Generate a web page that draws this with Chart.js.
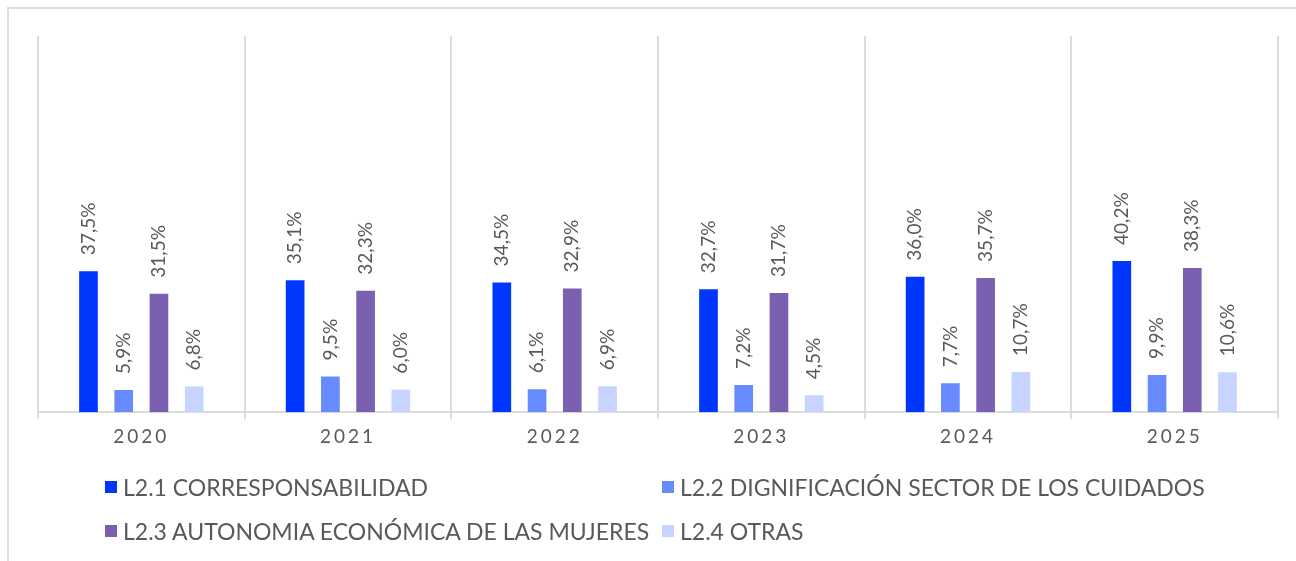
<!DOCTYPE html>
<html>
<head>
<meta charset="utf-8">
<script src="https://cdn.jsdelivr.net/npm/chart.js@4"></script>
<style>
  html, body { margin: 0; padding: 0; background: #fff; overflow: hidden; }
  body { width: 1296px; height: 561px; position: relative; font-family: Lato, "Noto Sans", sans-serif; }
  #frame { position: absolute; left: 7px; top: 7px; width: 1400px; height: 700px; border: 2px solid #dedede; }
  #chartBox { position: absolute; left: 0; top: 0; width: 1296px; height: 460px; }
  #legend { position: absolute; left: 0; top: 0; width: 1296px; height: 561px; }
  .item { position: absolute; display: flex; align-items: center; font-size: 23px; color: #595959; white-space: nowrap; }
  .box { width: 12px; height: 12px; margin-right: 6px; }
</style>
</head>
<body>
<div id="frame"></div>
<div id="chartBox"><canvas id="myChart"></canvas></div>
<div id="legend"></div>
<script>
let years = ["2020", "2021", "2022", "2023", "2024", "2025"];
let seriesNames = [
  "L2.1 CORRESPONSABILIDAD",
  "L2.2 DIGNIFICACIÓN SECTOR DE LOS CUIDADOS",
  "L2.3 AUTONOMIA ECONÓMICA DE LAS MUJERES",
  "L2.4 OTRAS",
];
let corresponsabilidad = [37.5, 35.1, 34.5, 32.7, 36.0, 40.2];
let dignificacion = [5.9, 9.5, 6.1, 7.2, 7.7, 9.9];
let autonomia = [31.5, 32.3, 32.9, 31.7, 35.7, 38.3];
let otras = [6.8, 6.0, 6.9, 4.5, 10.7, 10.6];

let colors = ["#0037ff", "#678bff", "#7b5fb0", "#c6d4ff"];
let textColor = "#595959";

// percent labels written vertically above each bar
const barLabels = {
  id: "barLabels",
  beforeDraw(chart) {
    chart.ctx.letterSpacing = "3px";
  },
  afterDatasetsDraw(chart) {
    let ctx = chart.ctx;
    ctx.save();
    ctx.letterSpacing = "0px";
    ctx.font = "19px Lato, 'Noto Sans', sans-serif";
    ctx.fillStyle = textColor;
    ctx.textAlign = "left";
    ctx.textBaseline = "middle";
    chart.data.datasets.forEach((ds, i) => {
      chart.getDatasetMeta(i).data.forEach((bar, j) => {
        let txt = ds.data[j].toFixed(1).replace(".", ",") + "%";
        ctx.save();
        ctx.translate(bar.x, bar.y - 16);
        ctx.rotate(-Math.PI / 2);
        ctx.fillText(txt, 0, 0);
        ctx.restore();
      });
    });
    ctx.restore();
  },
};

let allSeries = [corresponsabilidad, dignificacion, autonomia, otras];

var ctx = document.getElementById("myChart").getContext("2d");
var myChart = new Chart(ctx, {
  type: "bar",
  data: {
    labels: years,
    datasets: allSeries.map((values, i) => {
      return {
        label: seriesNames[i],
        data: values,
        backgroundColor: colors[i],
        categoryPercentage: 0.682,
        barPercentage: 0.53,
      };
    }),
  },
  options: {
    responsive: true,
    maintainAspectRatio: false,
    animation: false,
    layout: {
      padding: { left: 38, right: 18, top: 36, bottom: 6 },
    },
    plugins: {
      legend: { display: false },
      tooltip: { enabled: false },
    },
    scales: {
      x: {
        grid: {
          color: "#dcdcdc",
          lineWidth: 2,
          tickLength: 7,
          offset: true,
        },
        border: { color: "#dcdcdc", width: 2 },
        ticks: {
          color: textColor,
          font: { family: "Lato, 'Noto Sans', sans-serif", size: 19 },
          padding: 6,
          maxRotation: 0,
        },
      },
      y: {
        display: false,
        min: 0,
        max: 100,
      },
    },
  },
  plugins: [barLabels],
});

// two-column legend below the chart
let legendPos = [
  { left: 105, top: 487 },
  { left: 662, top: 487 },
  { left: 105, top: 531 },
  { left: 662, top: 531 },
];
let legendDiv = document.getElementById("legend");
myChart.data.datasets.forEach((ds, i) => {
  let item = document.createElement("div");
  item.className = "item";
  item.style.left = legendPos[i].left + "px";
  item.style.top = legendPos[i].top - 14 + "px";
  item.style.height = "28px";
  item.innerHTML = '<span class="box" style="background:' + ds.backgroundColor + '"></span>' + ds.label;
  legendDiv.appendChild(item);
});
</script>
</body>
</html>
